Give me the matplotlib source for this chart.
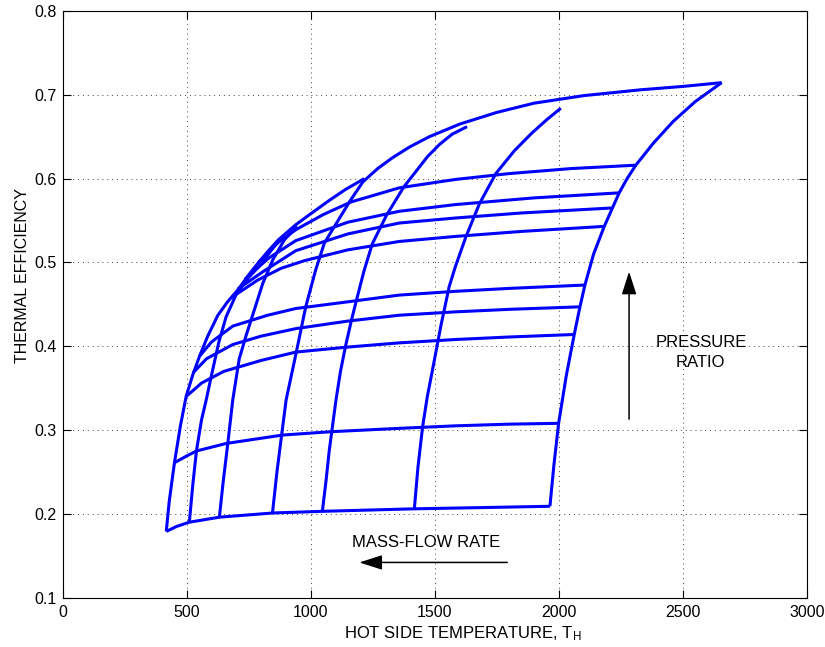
import matplotlib

matplotlib.use("Agg")
import matplotlib.pyplot as plt

plt.rcParams["font.family"] = ["Liberation Sans", "DejaVu Sans"]
plt.rcParams["mathtext.fontset"] = "custom"
plt.rcParams["mathtext.rm"] = "Liberation Sans"
plt.rcParams["mathtext.it"] = "Liberation Sans"

# constant pressure-ratio curves (hot side temperature, efficiency)
pr1_t = [418, 460, 511, 632, 847, 1048, 1420, 1700, 1964]
pr1_eff = [0.179, 0.185, 0.190, 0.196, 0.201, 0.203, 0.206, 0.2075, 0.209]
pr2_t = [451, 500, 540, 660, 887, 1082, 1357, 1583, 1800, 1999]
pr2_eff = [0.261, 0.269, 0.275, 0.284, 0.294, 0.298, 0.302, 0.305, 0.307, 0.308]
pr3_t = [498, 560, 650, 800, 940, 1150, 1357, 1583, 1800, 2062]
pr3_eff = [0.340, 0.356, 0.370, 0.383, 0.393, 0.399, 0.404, 0.408, 0.411, 0.414]
pr4_t = [525, 580, 686, 800, 940, 1150, 1357, 1583, 1800, 2085]
pr4_eff = [0.368, 0.385, 0.402, 0.412, 0.421, 0.430, 0.437, 0.441, 0.444, 0.447]
pr5_t = [552, 600, 686, 827, 940, 1150, 1357, 1583, 1800, 2105]
pr5_eff = [0.388, 0.405, 0.424, 0.437, 0.445, 0.453, 0.461, 0.4655, 0.469, 0.473]
pr6_t = [680, 787, 881, 974, 1150, 1357, 1583, 1850, 2183]
pr6_eff = [0.458, 0.479, 0.493, 0.502, 0.515, 0.525, 0.531, 0.537, 0.543]
pr7_t = [705, 813, 940, 1150, 1357, 1583, 1850, 2216]
pr7_eff = [0.468, 0.490, 0.514, 0.534, 0.547, 0.553, 0.559, 0.565]
pr8_t = [735, 830, 940, 1150, 1357, 1583, 1900, 2243]
pr8_eff = [0.480, 0.505, 0.526, 0.548, 0.561, 0.569, 0.577, 0.583]
pr9_t = [790, 870, 940, 1050, 1161, 1357, 1583, 1800, 2050, 2310]
pr9_eff = [0.500, 0.524, 0.539, 0.557, 0.572, 0.589, 0.599, 0.606, 0.612, 0.616]

# constant mass-flow curves
mf1_t = [418, 430, 451, 475, 498, 525, 552, 585, 626, 665, 706, 750, 790, 830, 870,
         940, 1000, 1075, 1140, 1216]
mf1_eff = [0.179, 0.215, 0.261, 0.305, 0.340, 0.366, 0.388, 0.412, 0.437, 0.453, 0.467,
           0.485, 0.500, 0.514, 0.527, 0.545, 0.558, 0.574, 0.587, 0.600]
mf2_t = [511, 525, 540, 560, 579, 600, 630, 659, 700, 750, 800, 860]
mf2_eff = [0.190, 0.235, 0.276, 0.312, 0.336, 0.365, 0.405, 0.435, 0.462, 0.482, 0.498,
           0.522]
mf3_t = [632, 648, 666, 686, 712, 740, 766, 807, 847, 894, 945]
mf3_eff = [0.196, 0.240, 0.284, 0.336, 0.385, 0.413, 0.437, 0.475, 0.503, 0.527, 0.543]
mf4_t = [846, 864, 882, 901, 940, 980, 1020, 1055, 1100, 1160, 1210, 1270, 1330, 1400,
         1478, 1600, 1750, 1900, 2100, 2330, 2500, 2656]
mf4_eff = [0.201, 0.250, 0.292, 0.336, 0.390, 0.447, 0.491, 0.523, 0.545, 0.574, 0.596,
           0.612, 0.625, 0.638, 0.650, 0.665, 0.679, 0.690, 0.699, 0.706, 0.710, 0.7145]
mf5_t = [1047, 1062, 1075, 1088, 1102, 1120, 1141, 1165, 1188, 1215, 1248, 1305, 1375,
         1420, 1470, 1520, 1570, 1630]
mf5_eff = [0.203, 0.240, 0.276, 0.305, 0.336, 0.370, 0.401, 0.432, 0.459, 0.490, 0.522,
           0.556, 0.590, 0.607, 0.626, 0.641, 0.653, 0.662]
mf6_t = [1418, 1432, 1451, 1470, 1491, 1525, 1558, 1583, 1626, 1680, 1746, 1820, 1890,
         1950, 2008]
mf6_eff = [0.207, 0.255, 0.304, 0.340, 0.372, 0.425, 0.471, 0.495, 0.531, 0.570, 0.606,
           0.633, 0.654, 0.670, 0.684]
mf7_t = [1964, 1980, 1999, 2030, 2062, 2085, 2105, 2140, 2183, 2216, 2243, 2275, 2310,
         2380, 2460, 2550, 2656]
mf7_eff = [0.209, 0.258, 0.308, 0.365, 0.414, 0.447, 0.473, 0.510, 0.543, 0.565, 0.583,
           0.600, 0.616, 0.642, 0.668, 0.692, 0.7145]

curves = [
    (pr1_t, pr1_eff), (pr2_t, pr2_eff), (pr3_t, pr3_eff), (pr4_t, pr4_eff),
    (pr5_t, pr5_eff), (pr6_t, pr6_eff), (pr7_t, pr7_eff), (pr8_t, pr8_eff),
    (pr9_t, pr9_eff),
    (mf1_t, mf1_eff), (mf2_t, mf2_eff), (mf3_t, mf3_eff), (mf4_t, mf4_eff),
    (mf5_t, mf5_eff), (mf6_t, mf6_eff), (mf7_t, mf7_eff),
]

fig = plt.figure(figsize=(8.25, 6.47), dpi=100)
ax = fig.add_axes([0.0758, 0.0763, 0.9024, 0.9067])

for t, eff in curves:
    ax.plot(t, eff, color="#0000ff", lw=2.2, solid_capstyle="butt", solid_joinstyle="round")

ax.set_xlim(0, 3000)
ax.set_ylim(0.1, 0.8)
ax.set_xticks(range(0, 3001, 500))
ax.set_yticks([0.1, 0.2, 0.3, 0.4, 0.5, 0.6, 0.7, 0.8])
ax.set_yticklabels(["0.1", "0.2", "0.3", "0.4", "0.5", "0.6", "0.7", "0.8"])
ax.grid(True, color="0.25", lw=0.7, linestyle=(0, (1, 4)))
ax.tick_params(direction="in", length=6, width=0.8, top=True, right=True,
               labelsize=11.5, colors="black")
ax.tick_params(axis="x", pad=5)
ax.tick_params(axis="y", pad=4)
for sp in ax.spines.values():
    sp.set_linewidth(0.8)

ax.set_xlabel("HOT SIDE TEMPERATURE, T$_{\\mathrm{H}}$", fontsize=12)
ax.xaxis.set_label_coords(0.378, -0.0687)
ax.xaxis.label.set_horizontalalignment("left")
ax.xaxis.label.set_verticalalignment("baseline")
ax.set_ylabel("THERMAL EFFICIENCY", fontsize=11.5)
ax.yaxis.set_label_coords(-0.0437, 0.549)

head = "-|>,head_length=1.4,head_width=0.45"
ax.annotate("", xy=(2283, 0.489), xytext=(2283, 0.313),
            arrowprops=dict(arrowstyle=head, color="black", lw=1.1, shrinkA=0, shrinkB=0))
ax.text(2574, 0.3987, "PRESSURE", ha="center", va="baseline", fontsize=12)
ax.text(2570, 0.3756, "RATIO", ha="center", va="baseline", fontsize=12)

ax.annotate("", xy=(1196, 0.142), xytext=(1792, 0.142),
            arrowprops=dict(arrowstyle=head, color="black", lw=1.1, shrinkA=0, shrinkB=0))
ax.text(1467, 0.1608, "MASS-FLOW RATE", ha="center", va="baseline", fontsize=12)

fig.savefig("out.png", dpi=100)
